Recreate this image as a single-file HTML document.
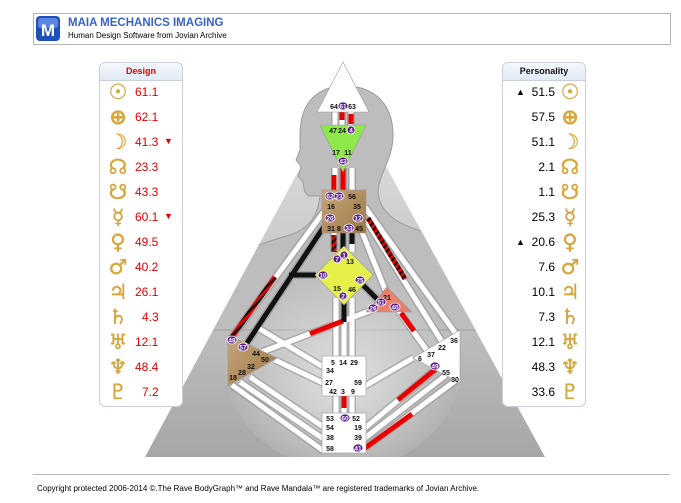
<!DOCTYPE html>
<html><head><meta charset="utf-8"><style>
body{margin:0;width:681px;height:503px;background:#fff;position:relative;overflow:hidden;font-family:"Liberation Sans",sans-serif}
.panel{position:absolute;top:62px;width:84px;height:345px;border:1px solid #c8d0dc;border-radius:6px;background:#fff;box-sizing:border-box}
.panel .hd{height:17px;border-bottom:1px solid #c8d0dc;background:linear-gradient(#f4f8fd,#e2eaf5);border-radius:6px 6px 0 0;font-size:9px;font-weight:bold;text-align:center;line-height:17px}
.row{position:absolute;height:22px;font-size:12px;line-height:22px}
.g{position:absolute;color:#d8a636;font-family:"DejaVu Sans",sans-serif;font-size:21px;font-weight:bold;width:22px;text-align:center;line-height:22px;text-shadow:0 0 0.6px #b07d10}
.tri{position:absolute;font-size:9px;line-height:22px;height:22px}
</style></head><body>
<svg width="681" height="503" style="position:absolute;left:0;top:0">
<defs>
<linearGradient id="tri" x1="0" y1="0" x2="0" y2="1"><stop offset="0" stop-color="#e2e2e2"/><stop offset="0.5" stop-color="#c8c8c8"/><stop offset="1" stop-color="#a6a6a6"/></linearGradient>
<radialGradient id="cen" cx="0.5" cy="0.6" r="0.5"><stop offset="0" stop-color="#e6e6e6" stop-opacity="0.9"/><stop offset="1" stop-color="#e6e6e6" stop-opacity="0"/></radialGradient>
<linearGradient id="tan" x1="0" y1="0" x2="1" y2="1"><stop offset="0" stop-color="#c8a678"/><stop offset="1" stop-color="#9c7848"/></linearGradient>
<pattern id="str" width="5" height="5" patternUnits="userSpaceOnUse" patternTransform="rotate(45)"><rect width="5" height="5" fill="#e00"/><rect width="2.5" height="5" fill="#111"/></pattern>
<clipPath id="tc"><polygon points="343,88 545,457 145,457"/><rect x="290" y="80" width="110" height="125"/></clipPath>
</defs>
<rect x="33.5" y="13.5" width="637" height="31" fill="#fff" stroke="#b4b4b4"/>
<rect x="36" y="16" width="24" height="25" rx="4" fill="#1f4fb8"/>
<rect x="38" y="18" width="20" height="10" rx="3" fill="#5a86e0"/>
<text x="48" y="36" font-size="17" font-weight="bold" fill="#fff" text-anchor="middle" font-family="Liberation Sans">M</text>
<text x="68" y="26" font-size="11.5" font-weight="bold" fill="#3a62c8">MAIA MECHANICS IMAGING</text>
<text x="68" y="38" font-size="8" fill="#000">Human Design Software from Jovian Archive</text>
<line x1="33" y1="474.5" x2="670" y2="474.5" stroke="#b4b4b4"/>
<text x="37" y="491" font-size="8" fill="#000">Copyright protected 2006-2014 ©.The Rave BodyGraph™ and Rave Mandala™ are registered trademarks of Jovian Archive.</text>
<polygon points="343,88 545,457 145,457" fill="url(#tri)"/>
<g clip-path="url(#tc)">
<path d="M300,135 C300,100 320,86 345,86 C375,86 393,105 393,135 C393,160 380,170 378,192 C380,215 400,225 425,232 C445,238 452,250 458,270 L500,330 L180,330 L232,265 C245,248 262,243 290,235 C310,228 318,215 320,196 L310,196 C303,194 304,186 303,182 L298,176 C300,170 302,168 300,165 L296,160 L300,150 Z" fill="#bdbdbd" stroke="#9c9c9c" stroke-width="1"/>
</g>
<g clip-path="url(#tc)"><ellipse cx="343" cy="360" rx="120" ry="110" fill="url(#cen)"/></g>
<g stroke-linecap="butt" fill="none">
<g stroke="#8f8f8f" stroke-width="8" opacity="0.55">
<path d="M335,110V126M342,110V126M351,110V126M335,168V192M343,168V192M352,168V192M334,230V252M343,230V252M352,230V252M336,298V358M344,298V358M352,298V358M336,393V415M344,393V415M352,393V415
M325,210L232,337M327,222L247,343M316,275L289,275M258,328L325,368M262,352L372,310M275,360L325,384M232,385L325,452M240,382L325,440M250,377L325,428
M365,207L456,334M366,220L444,345M362,232L386,292M358,280L380,302M398,310L428,352M413,358L365,386M455,381L365,448M446,375L365,438M437,368L365,428"/>
</g>
<g stroke="#fff" stroke-width="5">
<path d="M335,110V126M342,110V126M351,110V126M335,168V192M343,168V192M352,168V192M334,230V252M343,230V252M352,230V252M336,298V358M344,298V358M352,298V358M336,393V415M344,393V415M352,393V415
M325,210L232,337M327,222L247,343M316,275L289,275M258,328L325,368M262,352L372,310M275,360L325,384M232,385L325,452M240,382L325,440M250,377L325,428
M365,207L456,334M366,220L444,345M362,232L386,292M358,280L380,302M398,310L428,352M413,358L365,386M455,381L365,448M446,375L365,438M437,368L365,428"/>
</g>
<g stroke="#e80000" stroke-width="5">
<path d="M342,112V120M351,114V124M334,175V190M343,168V190M344,396V408M310,333.7L343,321M401,313L414,331M437,368L398,400M365,448L412,414"/>
</g>
<g stroke="#111" stroke-width="5">
<path d="M327,222L247,343M316,275L289,275M358,280L380,302M343,232V250M352,232V244M344,300V322"/>
</g>
<path d="M334,235V252" stroke="url(#str)" stroke-width="5"/>
<path d="M275,277L232,337" stroke="url(#str)" stroke-width="5"/>
<path d="M368,218L405,279" stroke="url(#str)" stroke-width="5"/>
</g>
<g stroke="#999" stroke-width="0.6">
<polygon points="343,62 369,112 317,112" fill="#fff"/>
<polygon points="320,125 366,125 343,172" fill="#8ee84a"/>
<rect x="322" y="190" width="44" height="43" fill="url(#tan)"/>
<polygon points="344,246 373,275 344,305 315,275" fill="#e6f04a"/>
<polygon points="387,287 412,312 366,312" fill="#e8806a"/>
<polygon points="228,335 277,358 228,386" fill="url(#tan)"/>
<polygon points="413,358 460,330 460,383" fill="#fff"/>
<rect x="322" y="356" width="44" height="40" fill="#fff"/>
<rect x="322" y="413" width="44" height="40" fill="#fff"/>
</g>
<g font-size="7" font-weight="bold" fill="#111" text-anchor="middle">
<text x="334" y="109">64</text><text x="352" y="109">63</text>
<text x="333" y="133">47</text><text x="342" y="133">24</text>
<text x="336" y="155">17</text><text x="348" y="155">11</text>
<text x="352" y="199">56</text><text x="331" y="209">16</text><text x="357" y="209">35</text>
<text x="331" y="231">31</text><text x="339" y="231">8</text><text x="359" y="231">45</text>
<text x="350" y="264">13</text><text x="337" y="291">15</text><text x="352" y="292">46</text>
<text x="387" y="300">21</text>
<text x="256" y="356">44</text><text x="265" y="362">50</text><text x="251" y="369">32</text><text x="242" y="375">28</text><text x="233" y="380">18</text>
<text x="454" y="343">36</text><text x="442" y="350">22</text><text x="431" y="357">37</text><text x="420" y="361">6</text><text x="446" y="375">55</text><text x="455" y="382">30</text>
<text x="333" y="365">5</text><text x="343" y="365">14</text><text x="354" y="365">29</text><text x="330" y="373">34</text>
<text x="329" y="385">27</text><text x="358" y="385">59</text><text x="333" y="394">42</text><text x="343" y="394">3</text><text x="353" y="394">9</text>
<text x="330" y="421">53</text><text x="356" y="421">52</text><text x="330" y="430">54</text><text x="358" y="430">19</text>
<text x="330" y="440">38</text><text x="358" y="440">39</text><text x="330" y="451">58</text>
</g>
<g fill="#5a1e8c" stroke="#fff" stroke-width="0.8">
<ellipse cx="343" cy="106" rx="5" ry="4"/><ellipse cx="351" cy="130" rx="4" ry="4"/><ellipse cx="343" cy="161" rx="5" ry="4"/>
<ellipse cx="330" cy="196" rx="5" ry="4"/><ellipse cx="339" cy="196" rx="5" ry="4"/><ellipse cx="330" cy="218" rx="5" ry="4"/><ellipse cx="358" cy="218" rx="5" ry="4"/><ellipse cx="349" cy="228" rx="5" ry="4"/>
<ellipse cx="344" cy="255" rx="4" ry="4"/><ellipse cx="337" cy="259" rx="4" ry="4"/><ellipse cx="323" cy="275" rx="5" ry="4"/><ellipse cx="360" cy="280" rx="5" ry="4"/><ellipse cx="343" cy="296" rx="4" ry="4"/>
<ellipse cx="381" cy="302" rx="5" ry="4"/><ellipse cx="373" cy="308" rx="5" ry="4"/><ellipse cx="395" cy="307" rx="5" ry="4"/>
<ellipse cx="232" cy="340" rx="5" ry="4"/><ellipse cx="243" cy="347" rx="5" ry="4"/><ellipse cx="435" cy="366" rx="5" ry="4"/>
<ellipse cx="345" cy="418" rx="5" ry="4"/><ellipse cx="358" cy="448" rx="5" ry="4"/>
</g>
<g font-size="6.5" font-weight="bold" fill="#fff" text-anchor="middle">
<text x="343" y="108.5">61</text><text x="351" y="132.5">4</text><text x="343" y="163.5">43</text>
<text x="330" y="198.5">62</text><text x="339" y="198.5">23</text><text x="330" y="220.5">20</text><text x="358" y="220.5">12</text><text x="349" y="230.5">33</text>
<text x="344" y="257.5">1</text><text x="337" y="261.5">7</text><text x="323" y="277.5">10</text><text x="360" y="282.5">25</text><text x="343" y="298.5">2</text>
<text x="381" y="304.5">51</text><text x="373" y="310.5">26</text><text x="395" y="309.5">40</text>
<text x="232" y="342.5">48</text><text x="243" y="349.5">57</text><text x="435" y="368.5">49</text>
<text x="345" y="420.5">60</text><text x="358" y="450.5">41</text>
</g>
</svg>

<div class="panel" style="left:99px">
<div class="hd" style="color:#e00000">Design</div>
</div>
<div class="panel" style="left:502px">
<div class="hd" style="color:#111">Personality</div>
</div>
<div style="position:absolute;left:0;top:0">
<div class="g" style="left:107px;top:81px">☉</div><div class="row" style="left:135px;top:81px;color:#e00000">61.1</div>
<div class="g" style="left:107px;top:106px">⊕</div><div class="row" style="left:135px;top:106px;color:#e00000">62.1</div>
<div class="g" style="left:107px;top:131px">☽</div><div class="row" style="left:135px;top:131px;color:#e00000">41.3</div><div class="tri" style="left:164px;top:130px;color:#e00000">▼</div>
<div class="g" style="left:107px;top:156px">☊</div><div class="row" style="left:135px;top:156px;color:#e00000">23.3</div>
<div class="g" style="left:107px;top:181px">☋</div><div class="row" style="left:135px;top:181px;color:#e00000">43.3</div>
<div class="g" style="left:107px;top:206px">☿</div><div class="row" style="left:135px;top:206px;color:#e00000">60.1</div><div class="tri" style="left:164px;top:205px;color:#e00000">▼</div>
<div class="g" style="left:107px;top:231px">♀</div><div class="row" style="left:135px;top:231px;color:#e00000">49.5</div>
<div class="g" style="left:107px;top:256px">♂</div><div class="row" style="left:135px;top:256px;color:#e00000">40.2</div>
<div class="g" style="left:107px;top:281px">♃</div><div class="row" style="left:135px;top:281px;color:#e00000">26.1</div>
<div class="g" style="left:107px;top:306px">♄</div><div class="row" style="left:142px;top:306px;color:#e00000">4.3</div>
<div class="g" style="left:107px;top:331px">♅</div><div class="row" style="left:135px;top:331px;color:#e00000">12.1</div>
<div class="g" style="left:107px;top:356px">♆</div><div class="row" style="left:135px;top:356px;color:#e00000">48.4</div>
<div class="g" style="left:107px;top:381px">♇</div><div class="row" style="left:142px;top:381px;color:#e00000">7.2</div>

<div class="tri" style="left:516px;top:81px">▲</div><div class="row" style="left:510px;width:45px;text-align:right;top:81px">51.5</div><div class="g" style="left:559px;top:81px">☉</div>
<div class="row" style="left:510px;width:45px;text-align:right;top:106px">57.5</div><div class="g" style="left:559px;top:106px">⊕</div>
<div class="row" style="left:510px;width:45px;text-align:right;top:131px">51.1</div><div class="g" style="left:559px;top:131px">☽</div>
<div class="row" style="left:510px;width:45px;text-align:right;top:156px">2.1</div><div class="g" style="left:559px;top:156px">☊</div>
<div class="row" style="left:510px;width:45px;text-align:right;top:181px">1.1</div><div class="g" style="left:559px;top:181px">☋</div>
<div class="row" style="left:510px;width:45px;text-align:right;top:206px">25.3</div><div class="g" style="left:559px;top:206px">☿</div>
<div class="tri" style="left:516px;top:231px">▲</div><div class="row" style="left:510px;width:45px;text-align:right;top:231px">20.6</div><div class="g" style="left:559px;top:231px">♀</div>
<div class="row" style="left:510px;width:45px;text-align:right;top:256px">7.6</div><div class="g" style="left:559px;top:256px">♂</div>
<div class="row" style="left:510px;width:45px;text-align:right;top:281px">10.1</div><div class="g" style="left:559px;top:281px">♃</div>
<div class="row" style="left:510px;width:45px;text-align:right;top:306px">7.3</div><div class="g" style="left:559px;top:306px">♄</div>
<div class="row" style="left:510px;width:45px;text-align:right;top:331px">12.1</div><div class="g" style="left:559px;top:331px">♅</div>
<div class="row" style="left:510px;width:45px;text-align:right;top:356px">48.3</div><div class="g" style="left:559px;top:356px">♆</div>
<div class="row" style="left:510px;width:45px;text-align:right;top:381px">33.6</div><div class="g" style="left:559px;top:381px">♇</div>
</div>
</body></html>
